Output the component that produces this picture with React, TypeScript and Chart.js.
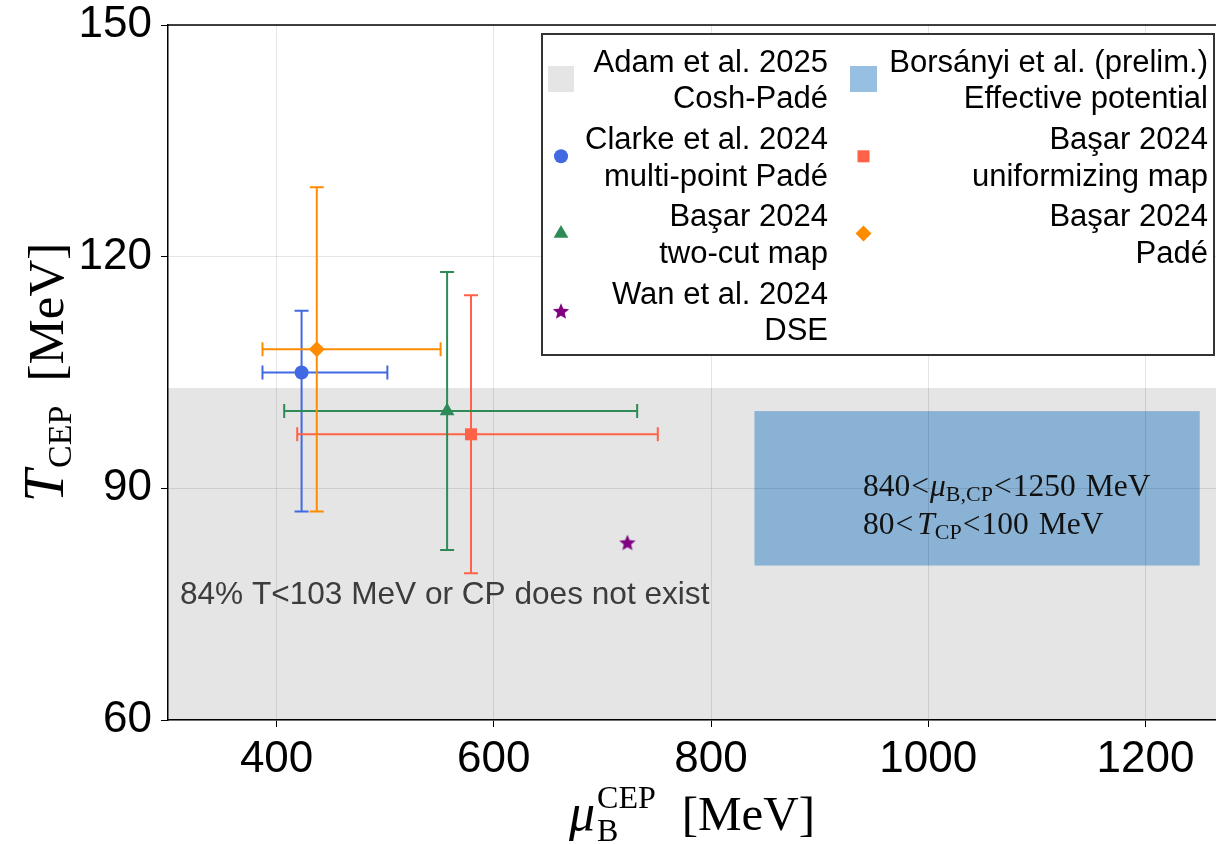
import React, { useEffect, useRef } from 'react';
import { Chart, registerables } from 'chart.js';
import { drawPoint } from 'chart.js/helpers';

Chart.register(...registerables);

// ---------- data ----------
const xTickValues = [400, 600, 800, 1000, 1200];
const xTickLabels = ['400', '600', '800', '1000', '1200'];
const yTickValues = [60, 90, 120, 150];
const yTickLabels = ['60', '90', '120', '150'];
const xRange = [300, 1265];
const yRange = [60, 150];

const seriesLabels = [
  ['Clarke et al. 2024', 'multi-point Padé'],
  ['Başar 2024', 'uniformizing map'],
  ['Başar 2024', 'two-cut map'],
  ['Başar 2024', 'Padé'],
  ['Wan et al. 2024', 'DSE'],
];
const seriesMu = [423, 579, 557, 437, 723];
const seriesMuLow = [387, 419, 407, 387, null];
const seriesMuHigh = [502, 751, 732, 551, null];
const seriesT = [105, 97, 100, 108, 83];
const seriesTLow = [87, 79, 82, 87, null];
const seriesTHigh = [113, 115, 118, 129, null];
const seriesColors = ['#4169e1', '#ff6347', '#2e8b57', '#ff8c00', '#800080'];
const seriesMarkers = ['circle', 'rect', 'triangle', 'rectRot', 'star'];
const seriesRadius = [7, 8.5, 8.5, 8, 8.5];

const bandLabel = ['Adam et al. 2025', 'Cosh-Padé'];
const bandTMax = 103;
const bandColor = '#e5e5e5';
const bandText = '84% T<103 MeV or CP does not exist';
const bandTextPos = [311, 75];

const boxLabel = ['Borsányi et al. (prelim.)', 'Effective potential'];
const boxMu = [840, 1250];
const boxT = [80, 100];
const boxColor = 'rgba(48,128,196,0.5)';
const boxTextPos = [940, 89, 84.1];

// ---------- helpers ----------
const SANS = '"Liberation Sans", Arial, sans-serif';
const SERIF = '"Liberation Serif", "Times New Roman", serif';

let starCanvas: HTMLCanvasElement | null = null;
function getStar(color: string) {
  if (starCanvas) return starCanvas;
  const c = document.createElement('canvas');
  c.width = 20;
  c.height = 20;
  const g = c.getContext('2d')!;
  const R = 8.6;
  const r = R * 0.45;
  g.beginPath();
  for (let i = 0; i < 10; i++) {
    const a = -Math.PI / 2 + (i * Math.PI) / 5;
    const rad = i % 2 === 0 ? R : r;
    const px = 10 + rad * Math.cos(a);
    const py = 10.8 + rad * Math.sin(a);
    if (i === 0) g.moveTo(px, py);
    else g.lineTo(px, py);
  }
  g.closePath();
  g.fillStyle = color;
  g.fill();
  starCanvas = c;
  return c;
}

function markerStyle(i: number): any {
  return seriesMarkers[i] === 'star' ? getStar(seriesColors[i]) : seriesMarkers[i];
}

type Run = { t: string; f: string; dy?: number };
type Seg = { t?: string; f?: string; dy?: number; gap?: number; stack?: Run[] };

function segWidth(ctx: CanvasRenderingContext2D, s: Seg) {
  const runs: Run[] = s.stack ? s.stack : [{ t: s.t!, f: s.f! }];
  let w = 0;
  runs.forEach((r) => {
    ctx.font = r.f;
    w = Math.max(w, ctx.measureText(r.t).width);
  });
  return w + (s.gap || 0);
}

function drawSegs(
  ctx: CanvasRenderingContext2D,
  segs: Seg[],
  x: number,
  y: number,
  align: 'left' | 'center' | 'right'
) {
  const ws = segs.map((s) => segWidth(ctx, s));
  const total = ws.reduce((a, b) => a + b, 0);
  let cx = align === 'left' ? x : align === 'center' ? x - total / 2 : x - total;
  ctx.textAlign = 'left';
  ctx.textBaseline = 'alphabetic';
  segs.forEach((s, i) => {
    const runs: Run[] = s.stack ? s.stack : [{ t: s.t!, f: s.f!, dy: s.dy }];
    runs.forEach((r) => {
      ctx.font = r.f;
      ctx.fillText(r.t, cx, y + (r.dy || 0));
    });
    cx += ws[i];
  });
}

const overlayPlugin = {
  id: 'overlay',
  afterLayout(chart: any) {
    // let the plot area run to the right edge of the canvas
    const a = chart.chartArea;
    const target = chart.width;
    if (a.right !== target) {
      a.right = target;
      a.width = a.right - a.left;
      const xs = chart.scales.x;
      xs.right = target;
      xs.width = xs.right - xs.left;
      xs.configure();
    }
  },
  beforeDraw(chart: any) {
    const { ctx, chartArea: a, scales } = chart;
    const xs = scales.x;
    const ys = scales.y;
    ctx.save();
    ctx.beginPath();
    ctx.rect(a.left, a.top, a.right - a.left, a.bottom - a.top);
    ctx.clip();
    ctx.fillStyle = bandColor;
    const yb = ys.getPixelForValue(bandTMax);
    ctx.fillRect(a.left, yb, a.right - a.left, ys.getPixelForValue(yRange[0]) - yb);
    ctx.fillStyle = boxColor;
    const x0 = xs.getPixelForValue(boxMu[0]);
    const x1 = xs.getPixelForValue(boxMu[1]);
    const y0 = ys.getPixelForValue(boxT[1]);
    const y1 = ys.getPixelForValue(boxT[0]);
    ctx.fillRect(x0, y0, x1 - x0, y1 - y0);
    ctx.restore();
  },
  beforeDatasetsDraw(chart: any) {
    const { ctx, scales } = chart;
    const xs = scales.x;
    const ys = scales.y;
    ctx.save();
    ctx.fillStyle = '#3c3c3c';
    ctx.font = `31.6px ${SANS}`;
    ctx.textAlign = 'left';
    ctx.textBaseline = 'alphabetic';
    ctx.fillText(bandText, xs.getPixelForValue(bandTextPos[0]), ys.getPixelForValue(bandTextPos[1]));

    ctx.fillStyle = '#111';
    const F = `31.5px ${SERIF}`;
    const I = `italic 31.5px ${SERIF}`;
    const S = `22px ${SERIF}`;
    const bx = xs.getPixelForValue(boxTextPos[0]);
    drawSegs(
      ctx,
      [
        { t: '840', f: F, gap: 1 },
        { t: '<', f: F, gap: 1 },
        { t: 'μ', f: I },
        { t: 'B,CP', f: S, dy: 5, gap: 1 },
        { t: '<', f: F, gap: 1 },
        { t: '1250', f: F, gap: 10 },
        { t: 'MeV', f: F },
      ],
      bx,
      ys.getPixelForValue(boxTextPos[1]),
      'left'
    );
    drawSegs(
      ctx,
      [
        { t: '80', f: F, gap: 1 },
        { t: '<', f: F, gap: 4 },
        { t: 'T', f: I },
        { t: 'CP', f: S, dy: 5, gap: 1 },
        { t: '<', f: F, gap: 1 },
        { t: '100', f: F, gap: 10 },
        { t: 'MeV', f: F },
      ],
      bx,
      ys.getPixelForValue(boxTextPos[2]),
      'left'
    );

    ctx.lineWidth = 2;
    const cap = 7;
    for (let i = 0; i < seriesMu.length; i++) {
      ctx.strokeStyle = seriesColors[i];
      const px = xs.getPixelForValue(seriesMu[i]);
      const py = ys.getPixelForValue(seriesT[i]);
      const ml = seriesMuLow[i];
      const mh = seriesMuHigh[i];
      const tl = seriesTLow[i];
      const th = seriesTHigh[i];
      ctx.beginPath();
      if (ml !== null && mh !== null) {
        const xl = xs.getPixelForValue(ml);
        const xh = xs.getPixelForValue(mh);
        ctx.moveTo(xl, py);
        ctx.lineTo(xh, py);
        ctx.moveTo(xl, py - cap);
        ctx.lineTo(xl, py + cap);
        ctx.moveTo(xh, py - cap);
        ctx.lineTo(xh, py + cap);
      }
      if (tl !== null && th !== null) {
        const yl = ys.getPixelForValue(tl);
        const yh = ys.getPixelForValue(th);
        ctx.moveTo(px, yl);
        ctx.lineTo(px, yh);
        ctx.moveTo(px - cap, yl);
        ctx.lineTo(px + cap, yl);
        ctx.moveTo(px - cap, yh);
        ctx.lineTo(px + cap, yh);
      }
      ctx.stroke();
    }
    ctx.restore();
  },
  afterDraw(chart: any) {
    const { ctx, chartArea: a } = chart;
    ctx.save();
    ctx.strokeStyle = '#000';
    ctx.lineWidth = 1.5;
    ctx.beginPath();
    ctx.moveTo(a.left - 0.75, a.top);
    ctx.lineTo(a.right, a.top);
    ctx.stroke();

    // legend
    const lx = 542;
    const ly = 34;
    const lw = 672;
    const lh = 321;
    ctx.fillStyle = '#fff';
    ctx.fillRect(lx, ly, lw, lh);
    ctx.strokeStyle = '#333';
    ctx.lineWidth = 2;
    ctx.strokeRect(lx, ly, lw, lh);

    const items: { lines: string[]; kind: string; idx: number }[] = [
      { lines: bandLabel, kind: 'band', idx: -1 },
      { lines: boxLabel, kind: 'box', idx: -1 },
      ...seriesLabels.map((l, i) => ({ lines: l, kind: 'series', idx: i })),
    ];
    const markerX = [561, 863.5];
    const textRight = [828, 1208];
    items.forEach((it, k) => {
      const col = k % 2;
      const row = Math.floor(k / 2);
      const b1 = 71.7 + row * 77.3;
      const b2 = b1 + 36.5;
      const my = b1 + 7.3;
      ctx.fillStyle = '#000';
      ctx.textAlign = 'right';
      ctx.textBaseline = 'alphabetic';
      ctx.font = `31px ${SANS}`;
      ctx.fillText(it.lines[0], textRight[col], b1);
      ctx.fillText(it.lines[1], textRight[col], b2);
      const mx = markerX[col];
      if (it.kind === 'band') {
        ctx.fillStyle = bandColor;
        ctx.fillRect(mx - 13, my - 13, 26, 26);
      } else if (it.kind === 'box') {
        ctx.fillStyle = boxColor;
        ctx.fillRect(mx - 13.5, my - 13, 27, 26);
      } else {
        ctx.fillStyle = seriesColors[it.idx];
        drawPoint(
          ctx,
          { pointStyle: markerStyle(it.idx), radius: seriesRadius[it.idx], rotation: 0, borderWidth: 0 } as any,
          mx,
          my
        );
      }
    });

    // axis titles
    ctx.fillStyle = '#000';
    const M = `49px ${SERIF}`;
    const MI = `italic 52px ${SERIF}`;
    const SS = `32px ${SERIF}`;
    const cxp = (a.left + a.right) / 2;
    drawSegs(
      ctx,
      [
        { t: 'μ', f: MI, gap: 2 },
        { stack: [{ t: 'CEP', f: SS, dy: -22 }, { t: 'B', f: SS, dy: 11 }], gap: 26 },
        { t: '[MeV]', f: M },
      ],
      cxp,
      830,
      'center'
    );
    ctx.translate(63, (a.top + a.bottom) / 2);
    ctx.rotate(-Math.PI / 2);
    drawSegs(
      ctx,
      [
        { t: 'T', f: `italic 58px ${SERIF}`, gap: 2 },
        { t: 'CEP', f: `34px ${SERIF}`, dy: 8, gap: 24 },
        { t: '[MeV]', f: `51px ${SERIF}` },
      ],
      0,
      0,
      'center'
    );
    ctx.restore();
  },
};

function zeroPad(s: any) {
  s.paddingTop = 0;
  s.paddingBottom = 0;
  s.paddingLeft = 0;
  s.paddingRight = 0;
}

export default function App() {
  const ref = useRef<HTMLCanvasElement | null>(null);
  useEffect(() => {
    document.body.style.margin = '0';
    const canvas = ref.current!;
    const datasets = seriesMu.map((m, i) => ({
      label: seriesLabels[i].join(' '),
      data: [{ x: m, y: seriesT[i] }],
      pointStyle: markerStyle(i),
      pointRadius: seriesRadius[i],
      pointHoverRadius: seriesRadius[i],
      backgroundColor: seriesColors[i],
      borderColor: seriesColors[i],
      borderWidth: 0,
      pointBorderWidth: 0,
    }));
    const tickFont = { family: SANS, size: 44 };
    const chart = new Chart(canvas, {
      type: 'scatter',
      data: { datasets: datasets as any },
      options: {
        animation: false,
        responsive: false,
        devicePixelRatio: 1,
        layout: { padding: { top: 25, left: 0, right: 0, bottom: 0 } },
        plugins: { legend: { display: false }, tooltip: { enabled: false } },
        scales: {
          x: {
            type: 'linear',
            min: xRange[0],
            max: xRange[1],
            afterBuildTicks: (s: any) => {
              s.ticks = xTickValues.map((v) => ({ value: v }));
            },
            afterFit: (s: any) => {
              s.height = 124;
              zeroPad(s);
            },
            ticks: {
              font: tickFont,
              color: '#000',
              padding: 6,
              maxRotation: 0,
              autoSkip: false,
              callback: (v: any) => xTickLabels[xTickValues.indexOf(Number(v))] ?? '',
            },
            grid: { color: 'rgba(0,0,0,0.1)', tickColor: '#000', tickLength: 7, lineWidth: 1 },
            border: { color: '#000', width: 1.5 },
          },
          y: {
            type: 'linear',
            min: yRange[0],
            max: yRange[1],
            afterBuildTicks: (s: any) => {
              s.ticks = yTickValues.map((v) => ({ value: v }));
            },
            afterFit: (s: any) => {
              s.width = 168;
              zeroPad(s);
            },
            ticks: {
              font: tickFont,
              color: '#000',
              padding: 9,
              autoSkip: false,
              callback: (v: any) => yTickLabels[yTickValues.indexOf(Number(v))] ?? '',
            },
            grid: { color: 'rgba(0,0,0,0.1)', tickColor: '#000', tickLength: 7, lineWidth: 1 },
            border: { color: '#000', width: 1.5 },
          },
        },
      } as any,
      plugins: [overlayPlugin],
    });
    return () => chart.destroy();
  }, []);
  return (
    <div style={{ width: 1216, height: 844 }}>
      <canvas ref={ref} width={1216} height={844} style={{ display: 'block' }} />
    </div>
  );
}
